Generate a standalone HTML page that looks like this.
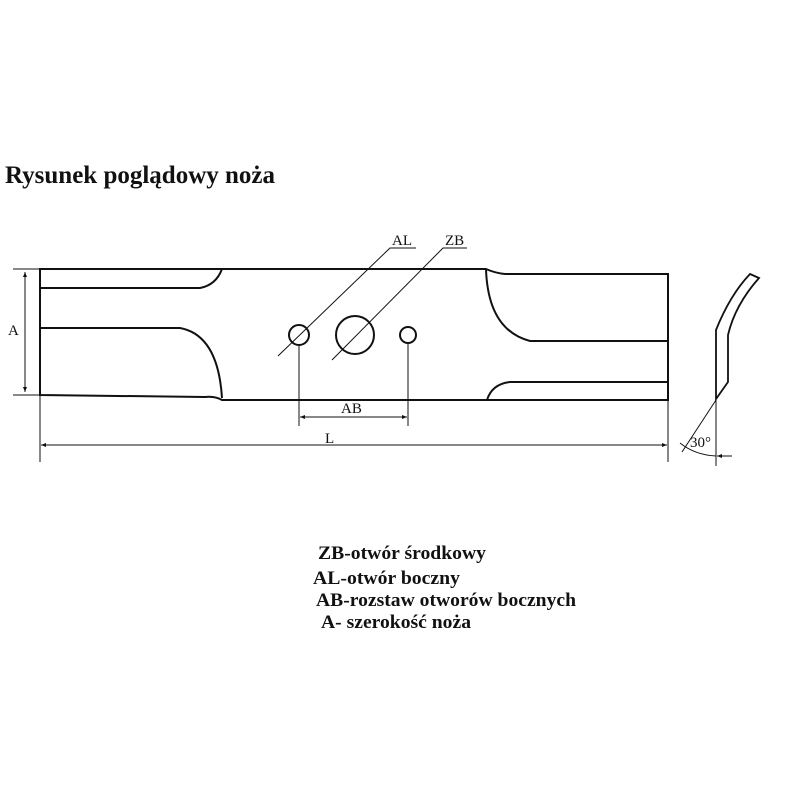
<!DOCTYPE html>
<html><head><meta charset="utf-8"><style>html,body{margin:0;padding:0;background:#fff}svg{display:block}</style></head>
<body>
<svg width="800" height="800" viewBox="0 0 800 800" xmlns="http://www.w3.org/2000/svg" font-family="Liberation Serif, serif">
<defs>
<marker id="a" viewBox="0 0 10 10" refX="10" refY="5" markerWidth="7" markerHeight="5" orient="auto-start-reverse"><path d="M0,1 L10,5 L0,9z" fill="#111"/></marker>
</defs>
<text x="5" y="183" font-size="25" font-weight="bold" textLength="270" lengthAdjust="spacingAndGlyphs" fill="#111">Rysunek poglądowy noża</text>
<g fill="none" stroke="#111" stroke-width="2">
<path d="M40,269 H486 Q495,273 505,274 H668 V400 H222 Q215,396 205,397 L40,395 Z"/>
<path d="M40,288 H200 Q216,285 222,269"/>
<path d="M40,328 H180 Q218,335 222,398"/>
<path d="M486,269 Q488,330 530,341 H668"/>
<path d="M668,382 H510 Q492,384 487,400"/>
<circle cx="299" cy="335" r="10"/>
<circle cx="355" cy="335" r="19"/>
<circle cx="408" cy="335" r="8"/>
<path d="M750,274 L759,278 Q735,305 728,335 V382 L716,399 V330 Q730,295 750,274 Z" stroke-width="1.8"/>
</g>
<g fill="none" stroke="#111" stroke-width="1">
<path d="M13,269 H40 M13,395 H40"/>
<path d="M25,272 V392" marker-start="url(#a)" marker-end="url(#a)"/>
<path d="M40,395 V462 M668,400 V462 M299,345 V426 M408,343 V426"/>
<path d="M300,417 H407" marker-start="url(#a)" marker-end="url(#a)"/>
<path d="M41,445 H667" marker-start="url(#a)" marker-end="url(#a)"/>
<path d="M278,356 L390,248 H416"/>
<path d="M332,360 L443,248 H467"/>
<path d="M716,400 V466 M716,400 L682,452"/>
<path d="M680,443 Q695,455 716,456"/>
<path d="M732,456 H717" marker-end="url(#a)"/>
</g>
<g font-size="15" fill="#111">
<text x="8" y="335">A</text>
<text x="341" y="413">AB</text>
<text x="325" y="443">L</text>
<text x="392" y="245">AL</text>
<text x="445" y="245">ZB</text>
<text x="690" y="447">30°</text>
</g>
<g font-size="19" font-weight="bold" fill="#111" lengthAdjust="spacingAndGlyphs">
<text x="318" y="559" textLength="168" lengthAdjust="spacingAndGlyphs">ZB-otwór środkowy</text>
<text x="313" y="584" textLength="147" lengthAdjust="spacingAndGlyphs">AL-otwór boczny</text>
<text x="316" y="606" textLength="260" lengthAdjust="spacingAndGlyphs">AB-rozstaw otworów bocznych</text>
<text x="321" y="628" textLength="150" lengthAdjust="spacingAndGlyphs">A- szerokość noża</text>
</g>
</svg>
</body></html>
